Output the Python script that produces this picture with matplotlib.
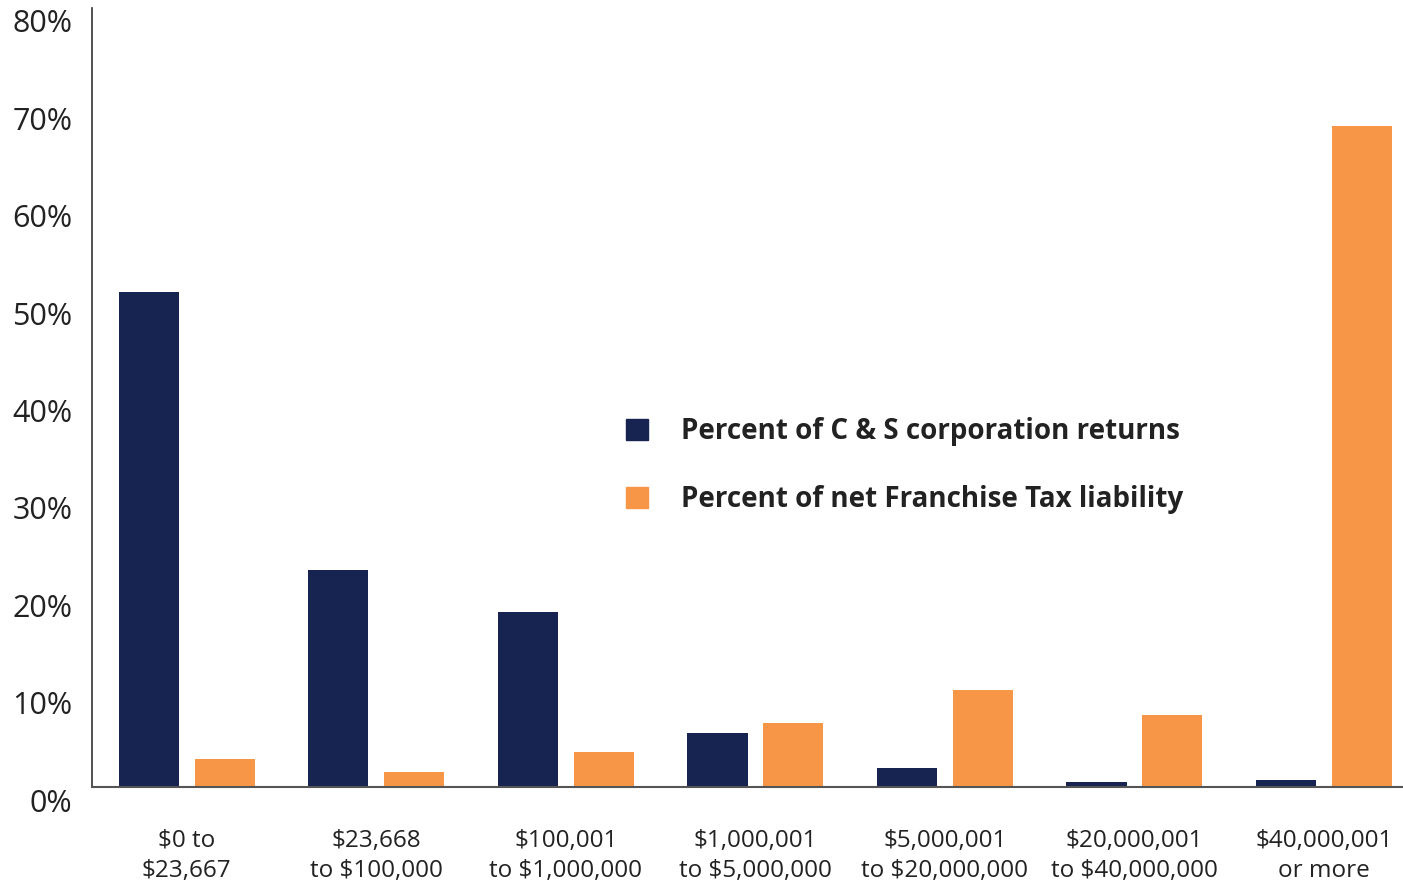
import matplotlib
matplotlib.use("Agg")
from matplotlib import pyplot as plt
from matplotlib.patches import Patch
from matplotlib.transforms import ScaledTranslation
import numpy as np

categories = ["$0 to\n$23,667", "$23,668\nto $100,000", "$100,001\nto $1,000,000",
              "$1,000,001\nto $5,000,000", "$5,000,001\nto $20,000,000",
              "$20,000,001\nto $40,000,000", "$40,000,001\nor more"]
returns_pct = [50.8, 22.3, 18.0, 5.5, 1.9, 0.5, 0.7]
liability_pct = [2.9, 1.5, 3.6, 6.6, 10.0, 7.4, 67.9]
yticks = [0, 10, 20, 30, 40, 50, 60, 70, 80]

NAVY = "#172350"
ORANGE = "#F79646"

plt.rcParams["font.family"] = ["Open Sans", "DejaVu Sans"]

fig = plt.figure(figsize=(14.03, 8.84), dpi=100)
ax = fig.add_axes([92 / 1403, 1 - 787 / 884, 1 - 92 / 1403, (787 - 8) / 884])

x = np.arange(len(categories))
w = 0.317
ax.bar(x - 0.2, returns_pct, w, color=NAVY)
ax.bar(x + 0.2, liability_pct, w, color=ORANGE)

ax.set_xlim(-0.5, 6.417)
ax.set_ylim(0, 80)
ax.set_yticks(yticks)
ax.set_yticklabels([f"{v}%" for v in yticks], fontsize=22, color="#222222")
ax.set_xticks(x)
ax.set_xticklabels(categories, fontsize=17.5, color="#222222", linespacing=1.35)
ax.tick_params(axis="y", length=0, pad=14)
ax.tick_params(axis="x", length=0, pad=30)
# the y labels sit a bit below their gridline positions in the original
for lab in ax.get_yticklabels():
    lab.set_transform(lab.get_transform() + ScaledTranslation(0, -0.13, fig.dpi_scale_trans))

for s in ["top", "right"]:
    ax.spines[s].set_visible(False)
ax.spines["left"].set_color("#333333")
ax.spines["bottom"].set_color("#555555")
ax.spines["left"].set_linewidth(1.2)
ax.spines["bottom"].set_linewidth(1.5)

handles = [Patch(color=NAVY), Patch(color=ORANGE)]
labels = ["Percent of C & S corporation returns", "Percent of net Franchise Tax liability"]
fig.legend(handles, labels, loc="upper left", bbox_to_anchor=(601 / 1403, 1 - 392 / 884),
           frameon=False, prop={"size": 20, "weight": "bold", "family": "Open Sans"},
           handlelength=0.79, handleheight=0.79, handletextpad=1.2, labelspacing=1.42,
           labelcolor="#222222")

fig.savefig("out.png", dpi=100)
